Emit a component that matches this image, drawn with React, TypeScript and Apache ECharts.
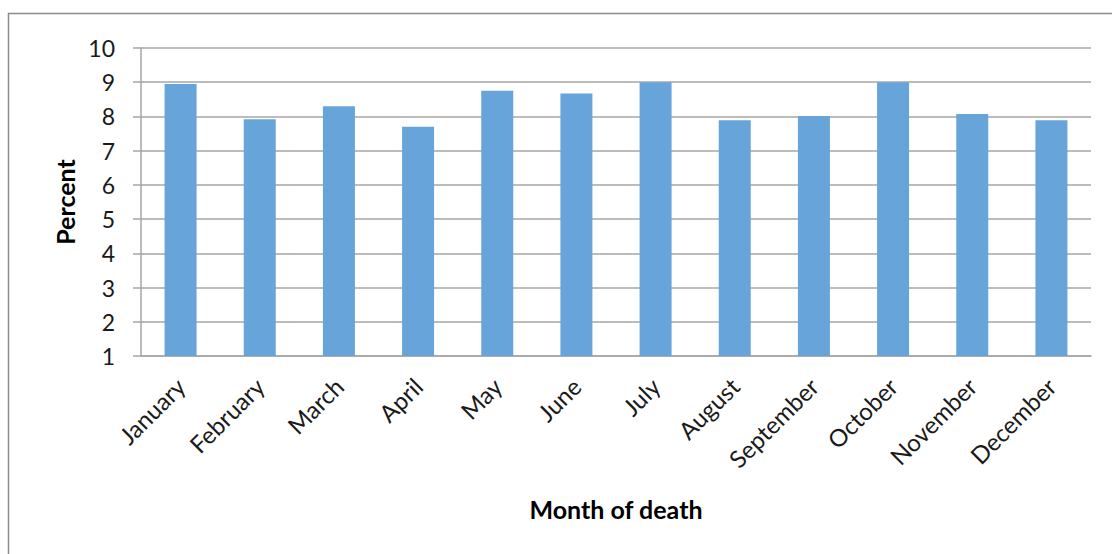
import React, { useEffect, useRef } from "react";
import * as echarts from "echarts";

const months = [
  "January", "February", "March", "April", "May", "June",
  "July", "August", "September", "October", "November", "December",
];
const percent = [8.95, 7.92, 8.3, 7.7, 8.75, 8.67, 9.0, 7.89, 8.01, 9.0, 8.07, 7.89];
const yMin = 1;
const yMax = 10;
const yStep = 1;

export default function App() {
  const ref = useRef<HTMLDivElement>(null);
  useEffect(() => {
    if (!ref.current) return;
    const chart = echarts.init(ref.current, null, { renderer: "svg" });
    const font = "Lato, 'Open Sans', sans-serif";
    chart.setOption({
      animation: false,
      backgroundColor: "#ffffff",
      graphic: [
        {
          type: "rect",
          shape: { x: 8.5, y: 13.5, width: 1300, height: 800 },
          style: { fill: "none", stroke: "#8c8c8c", lineWidth: 1.5 },
          silent: true,
        },
      ],
      grid: { left: 141, right: 21, top: 48, bottom: 198 },
      xAxis: {
        type: "category",
        data: months,
        axisLine: { show: true, lineStyle: { color: "#a6a6a6", width: 1.5 } },
        axisTick: { show: false },
        axisLabel: {
          rotate: 45,
          interval: 0,
          margin: 26,
          fontFamily: font,
          fontSize: 24,
          color: "#1a1a1a",
        },
        name: "Month of death",
        nameLocation: "middle",
        nameGap: 140,
        nameTextStyle: { fontFamily: font, fontSize: 25, fontWeight: "bold", color: "#000" },
      },
      yAxis: {
        type: "value",
        min: yMin,
        max: yMax,
        interval: yStep,
        axisLine: { show: true, lineStyle: { color: "#a6a6a6", width: 1.5 } },
        axisTick: { show: true, length: 8, lineStyle: { color: "#a6a6a6", width: 1.5 } },
        splitLine: { show: true, lineStyle: { color: "#a6a6a6", width: 1.5 } },
        axisLabel: {
          margin: 26,
          fontFamily: font,
          fontSize: 23,
          color: "#1a1a1a",
        },
        name: "Percent",
        nameLocation: "middle",
        nameGap: 63,
        nameTextStyle: { fontFamily: font, fontSize: 25, fontWeight: "bold", color: "#000" },
      },
      series: [
        {
          type: "bar",
          data: percent,
          barWidth: 32,
          itemStyle: { color: "#67a4d9" },
        },
      ],
    });
    return () => chart.dispose();
  }, []);
  return (
    <div
      ref={ref}
      style={{ position: "absolute", left: 0, top: 0, width: 1112, height: 554 }}
    />
  );
}
